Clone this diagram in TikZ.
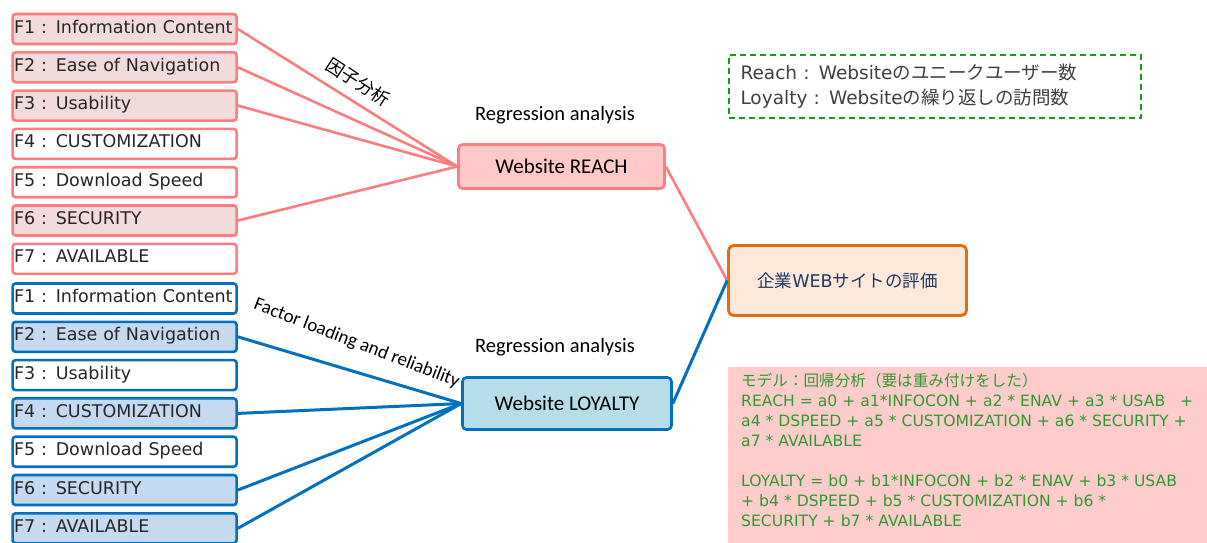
\documentclass[tikz,border=0pt]{standalone}
\usepackage{fontspec}
\setmainfont{DejaVu Sans}
\newfontfamily\cjk{Noto Sans CJK JP}
\newfontfamily\calfont{Carlito}
\definecolor{redline}{HTML}{FF7C80}
\definecolor{redfillc}{HTML}{F2DCDB}
\definecolor{reachfill}{HTML}{FFC9C9}
\definecolor{blueline}{HTML}{0070C0}
\definecolor{bluefillc}{HTML}{C5D9F1}
\definecolor{loyalfill}{HTML}{B7DEE8}
\definecolor{orangeline}{HTML}{E46C0A}
\definecolor{orangefill}{HTML}{FDE9D9}
\definecolor{navytext}{HTML}{203864}
\definecolor{legendgreen}{HTML}{1E961E}
\definecolor{legendtext}{HTML}{404040}
\definecolor{modelfill}{HTML}{FFCCCC}
\definecolor{modeltext}{HTML}{2E9A2E}
\definecolor{boxtext}{HTML}{262626}
\tikzset{
  fbox/.style={draw, rounded corners=3pt, line width=2.6pt, minimum height=30pt,
    text width=221pt, inner xsep=1.5pt, inner ysep=0pt, text height=13pt, text depth=5pt,
    anchor=west, align=left, text=boxtext, font=\fontsize{17.5}{20}\selectfont},
  redplain/.style={fbox, draw=redline, fill=white},
  redfilled/.style={fbox, draw=redline, fill=redfillc},
  blueplain/.style={fbox, draw=blueline, fill=white},
  bluefilled/.style={fbox, draw=blueline, fill=bluefillc},
  redconn/.style={draw=redline, line width=2.6pt},
  blueconn/.style={draw=blueline, line width=3pt},
  midbox/.style={rounded corners=4pt, line width=2.6pt, font=\calfont\fontsize{21}{24}\selectfont},
  caltext/.style={font=\calfont\fontsize{20.5}{24}\selectfont},
}
\begin{document}
\begin{tikzpicture}[x=1pt,y=-1pt]
\useasboundingbox (0,0) rectangle (1207,542);
\clip (0,0) rectangle (1207,542);

% red factor boxes
\node[redfilled] (r1) at (11.3,29.0) {F1 : Information Content};
\node[redfilled] (r2) at (11.3,67.3) {F2 : Ease of Navigation};
\node[redfilled] (r3) at (11.3,105.6) {F3 : Usability};
\node[redplain]  (r4) at (11.3,143.9) {F4 : CUSTOMIZATION};
\node[redplain]  (r5) at (11.3,182.2) {F5 : Download Speed};
\node[redfilled] (r6) at (11.3,220.5) {F6 : SECURITY};
\node[redplain]  (r7) at (11.3,258.8) {F7 : AVAILABLE};

% blue factor boxes
\node[blueplain]  (b1) at (11.3,298.5) {F1 : Information Content};
\node[bluefilled] (b2) at (11.3,336.8) {F2 : Ease of Navigation};
\node[blueplain]  (b3) at (11.3,375.1) {F3 : Usability};
\node[bluefilled] (b4) at (11.3,413.4) {F4 : CUSTOMIZATION};
\node[blueplain]  (b5) at (11.3,451.7) {F5 : Download Speed};
\node[bluefilled] (b6) at (11.3,490.0) {F6 : SECURITY};
\node[bluefilled] (b7) at (11.3,528.3) {F7 : AVAILABLE};

% middle boxes
\node[midbox, draw=redline, fill=reachfill, minimum width=206pt, minimum height=44pt] (reach) at (561.5,166.5) {Website REACH};
\node[midbox, draw=blueline, fill=loyalfill, minimum width=209pt, minimum height=52pt] (loyal) at (567,403.5) {Website LOYALTY};

% evaluation box
\node[draw=orangeline, fill=orangefill, rounded corners=5pt, line width=2.8pt,
      minimum width=238pt, minimum height=70pt, text=navytext,
      font=\fontsize{17.5}{20}\selectfont] (eval) at (847.5,280.5) {{\cjk 企業}WEB{\cjk サイトの評価}};

% connectors
\foreach \n in {r1,r2,r3,r6} \draw[redconn] (\n.east) -- (reach.west);
\foreach \n in {b2,b4,b6,b7} \draw[blueconn] (\n.east) -- (loyal.west);
\draw[redconn] (reach.east) -- (eval.west);
\draw[blueconn] (loyal.east) -- (eval.west);

% labels
\node[caltext] (reg1) at (555,115) {Regression analysis};
\node[caltext] (reg2) at (555,347) {Regression analysis};
\node[font=\cjk\fontsize{18}{20}\selectfont, rotate=-33] (fa) at (358,82) {因子分析};
\node[anchor=base, rotate=-21, inner sep=0pt, font=\calfont\fontsize{19}{22}\selectfont] (fl) at (355,348) {Factor loading and reliability};

% legend
\node[draw=legendgreen, dashed, dash pattern=on 6pt off 4pt, line width=2pt,
      minimum width=412pt, minimum height=63pt, text width=388pt, inner xsep=12pt,
      align=left, text=legendtext, font=\fontsize{18.5}{25}\selectfont] (legend) at (934.5,86)
  {Reach : Website{\cjk のユニークユーザー数}\\Loyalty : Website{\cjk の繰り返しの訪問数}};

% model box
\node[fill=modelfill, minimum width=479pt, minimum height=176pt, anchor=north west, inner sep=0pt] (modelbg) at (728,367) {};
\node[anchor=north west, align=left, text=modeltext, inner sep=0pt,
      font=\fontsize{15.6}{20}\selectfont] (model) at (741,373)
  {{\cjk モデル：回帰分析（要は重み付けをした）}\\
   REACH = a0 + a1*INFOCON + a2 * ENAV + a3 * USAB\ \ \ +\\
   a4 * DSPEED + a5 * CUSTOMIZATION + a6 * SECURITY +\\
   a7 * AVAILABLE\\[20pt]
   LOYALTY = b0 + b1*INFOCON + b2 * ENAV + b3 * USAB\\
   + b4 * DSPEED + b5 * CUSTOMIZATION + b6 *\\
   SECURITY + b7 * AVAILABLE};
\end{tikzpicture}
\end{document}
